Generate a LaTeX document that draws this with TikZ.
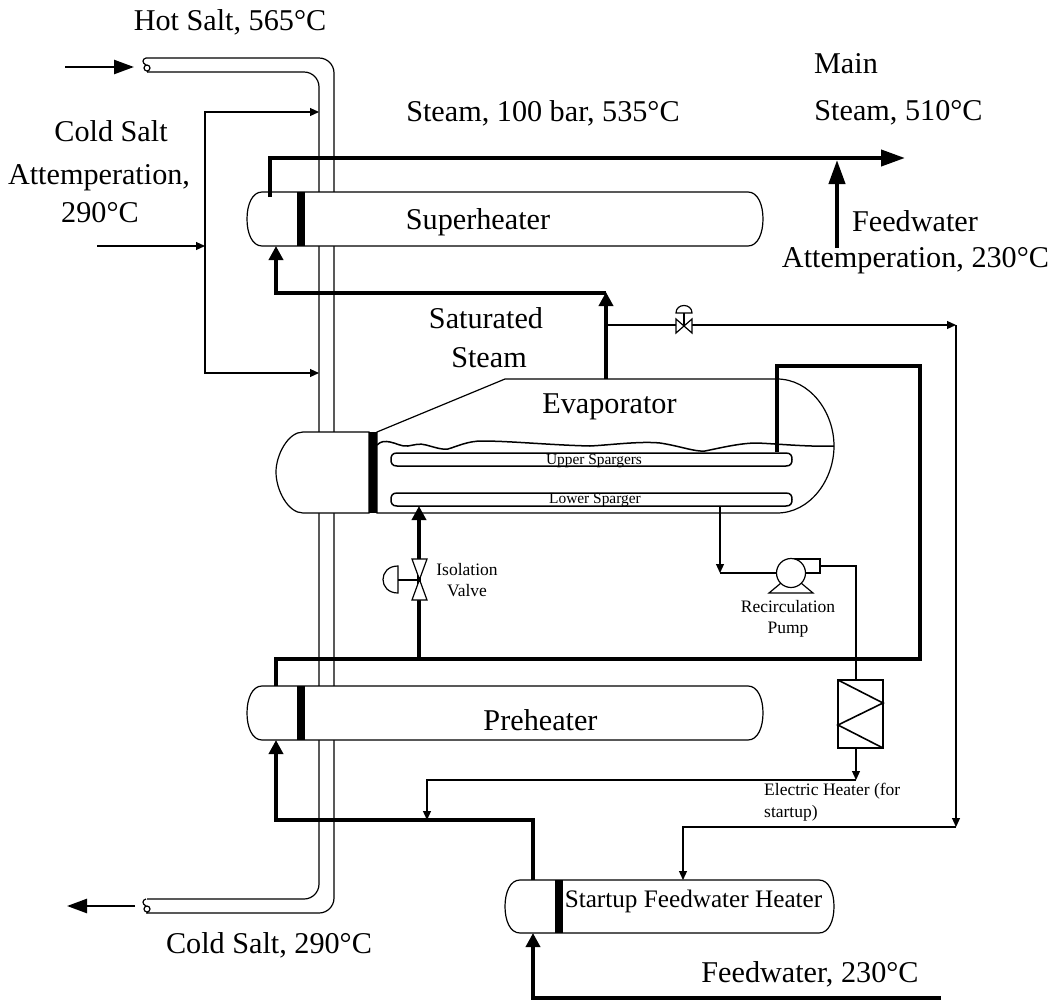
\documentclass[tikz,border=0pt]{standalone}
\usepackage{fontspec}
\setmainfont{Liberation Serif}
\usetikzlibrary{arrows.meta}
\tikzset{
    thinline/.style={line width=1.2pt},
    thickline/.style={line width=4pt},
    thinarrow/.style={thinline, -{Triangle[length=9pt,width=8pt]}},
    thickarrow/.style={thickline, -{Triangle[length=14pt,width=14pt]}},
    mainarrow/.style={thickline, -{Triangle[length=24pt,width=16pt]}},
    saltarrow/.style={line width=2.5pt, -{Triangle[length=20pt,width=14pt]}},
    vessel/.style={line width=1.2pt, fill=white},
    tubesheet/.style={fill=black, draw=none},
    biglabel/.style={inner sep=0pt, anchor=base, font=\fontsize{30.2}{36}\selectfont},
    smalllabel/.style={inner sep=0pt, font=\fontsize{17.5}{21.5}\selectfont, align=center},
    tinylabel/.style={inner sep=0pt, anchor=base, font=\fontsize{15.4}{18}\selectfont}
}
% heat exchanger drum: left, top, right, bottom
\newcommand{\drumshape}[4]{%
    \draw[vessel] ({#1+15},#2) -- ({#3-15},#2)
        .. controls ({#3-5},#2) and (#3,{(#2+#4)/2-14}) .. (#3,{(#2+#4)/2})
        .. controls (#3,{(#2+#4)/2+14}) and ({#3-5},#4) .. ({#3-15},#4)
        -- ({#1+15},#4)
        .. controls ({#1+5},#4) and (#1,{(#2+#4)/2+14}) .. (#1,{(#2+#4)/2})
        .. controls (#1,{(#2+#4)/2-14}) and ({#1+5},#2) .. cycle;}
% sparger pipe: left, top, right, bottom
\newcommand{\spargershape}[4]{%
    \draw[line width=1.5pt] ({#1+6},#2) -- ({#3-6},#2)
        .. controls ({#3-1},#2) and (#3,{#2+3}) .. (#3,{(#2+#4)/2})
        .. controls (#3,{#4-3}) and ({#3-1},#4) .. ({#3-6},#4)
        -- ({#1+6},#4)
        .. controls ({#1+1},#4) and (#1,{#4-3}) .. (#1,{(#2+#4)/2})
        .. controls (#1,{#2+3}) and ({#1+1},#2) .. cycle;}
\begin{document}
\begin{tikzpicture}[x=1pt, y=-1pt]
    \useasboundingbox (0,0) rectangle (1053,1002);

    % Salt pipe
    \draw[thinline, rounded corners=15pt] (146,58) -- (334,58) -- (334,913) -- (146,913);
    \draw[thinline, rounded corners=15pt] (147,72) -- (319,72) -- (319,899) -- (147,899);
    \draw[thinline] (146,58) .. controls (142,59) and (142,63) .. (146,65);
    \draw[thinline] (147,68) circle (3);
    \draw[thinline] (147,71) -- (148,72);
    \draw[thinline] (146,899) .. controls (142,900) and (142,904) .. (146,906);
    \draw[thinline] (147,909) circle (3);
    \draw[thinline] (147,912) -- (148,913);

    \coordinate (hotIn) at (65,67);
    \coordinate (hotEnd) at (134,67);
    \coordinate (coldEnd) at (135,906);
    \coordinate (coldOut) at (67,906);
    \draw[saltarrow] (hotIn) -- (hotEnd);
    \draw[saltarrow] (coldEnd) -- (coldOut);

    % Cold salt attemperation
    \coordinate (attIn) at (97,246);
    \coordinate (attBus) at (205,246);
    \coordinate (attTop) at (319,112);
    \coordinate (attLow) at (319,373);
    \draw[thinarrow] (attIn) -- (attBus);
    \draw[thinarrow] (attBus) |- (attTop);
    \draw[thinarrow] (attBus) |- (attLow);

    % Drums
    \drumshape{247}{192}{763}{246}
    \fill[tubesheet] (297,192) rectangle (305,246);
    \drumshape{247}{686}{763}{740}
    \fill[tubesheet] (297,686) rectangle (305,740);
    \drumshape{505}{880}{834}{933}
    \fill[tubesheet] (555,880) rectangle (563,933);

    % Evaporator
    \draw[vessel] (303,432) .. controls (288,432) and (276,455) .. (276,472)
        .. controls (276,490) and (288,513) .. (303,513) -- (369,513) -- (369,432) -- cycle;
    \draw[vessel] (377,432) -- (505,379) -- (777,379)
        .. controls (810,379) and (834,412) .. (834,446)
        .. controls (834,480) and (810,513) .. (777,513) -- (377,513) -- cycle;
    \fill[tubesheet] (369,432) rectangle (377,513);
    \draw[line width=1.5pt] (377,445) .. controls (381,441) and (385,441) .. (390,442)
        .. controls (396,443) and (402,447) .. (408,446)
        .. controls (414,445) and (420,443) .. (426,445)
        .. controls (434,447) and (442,450) .. (448,449)
        .. controls (458,446) and (468,441) .. (482,441)
        .. controls (510,441) and (550,445) .. (590,446)
        .. controls (610,445) and (640,441) .. (660,443)
        .. controls (680,446) and (695,452) .. (705,451)
        .. controls (720,448) and (740,443) .. (757,443)
        .. controls (780,444) and (810,447) .. (834,446);
    \spargershape{391}{453}{792}{466}
    \spargershape{391}{493}{792}{506}

    % Steam lines
    \coordinate (shOut) at (270,197);
    \coordinate (mainEnd) at (905,158);
    \coordinate (fwAttIn) at (837,248);
    \coordinate (fwAttEnd) at (837,160);
    \coordinate (evapTop) at (606,379);
    \coordinate (satEnd) at (606,292);
    \coordinate (satRun) at (606,293);
    \coordinate (shIn) at (276,246);
    \draw[mainarrow] (shOut) |- (mainEnd);
    \draw[mainarrow] (fwAttIn) -- (fwAttEnd);
    \draw[thickarrow] (evapTop) -- (satEnd);
    \draw[thickarrow] (satRun) -| (shIn);

    % Startup steam line and valve
    \coordinate (bleedStart) at (606,325);
    \coordinate (bleedEnd) at (956,325);
    \coordinate (bleedDown) at (956,827);
    \coordinate (sfwIn) at (683,880);
    \draw[thinarrow] (bleedStart) -- (bleedEnd);
    \draw[thinarrow] (bleedEnd) -- (bleedDown);
    \draw[thinarrow] (bleedDown) -| (sfwIn);
    \draw[thinline, fill=white] (676,319) -- (692,333) -- (692,319) -- (676,333) -- cycle;
    \draw[thinline] (684,326) -- (684,313);
    \draw[thinline] (676,313) .. controls (676,303) and (692,303) .. (692,313) -- cycle;

    % Feedwater lines
    \coordinate (fwStart) at (941,998);
    \coordinate (sfwBottom) at (533,933);
    \coordinate (sfwOut) at (533,880);
    \coordinate (phIn) at (276,740);
    \coordinate (phOut) at (276,686);
    \coordinate (evapRiser) at (920,659);
    \coordinate (spargerIn) at (777,452);
    \coordinate (riserTop) at (920,366);
    \coordinate (isoTee) at (419,659);
    \coordinate (isoEnd) at (419,506);
    \draw[thickarrow] (fwStart) -| (sfwBottom);
    \draw[thickarrow] (sfwOut) |- (276,820) -- (phIn);
    \draw[thickline] (phOut) |- (evapRiser) -- (riserTop) -| (spargerIn);
    \draw[thickarrow] (isoTee) -- (isoEnd);

    % Isolation valve
    \draw[thinline, fill=white] (412,559) -- (427,559) -- (412,600) -- (427,600) -- cycle;
    \draw[thinline] (419.5,580) -- (398,580);
    \draw[thinline] (398,566) .. controls (378,566) and (378,593) .. (398,593) -- cycle;

    % Recirculation loop
    \coordinate (lowOut) at (720,506);
    \coordinate (suctionEnd) at (720,573);
    \coordinate (pumpIn) at (777,573);
    \coordinate (pumpOut) at (820,566);
    \coordinate (heaterTop) at (856,680);
    \coordinate (heaterBottom) at (856,748);
    \coordinate (heaterEnd) at (856,780);
    \coordinate (returnEnd) at (427,820);
    \draw[thinarrow] (lowOut) -- (suctionEnd);
    \draw[thinline] (suctionEnd) -- (pumpIn);
    \draw[thinline] (791,559) -- (820,559) -- (820,573) -- (805,573);
    \draw[thinline, fill=white] (791,573) circle (14.5);
    \draw[thinline] (781,583) -- (769,593) -- (813,593) -- (801,583);
    \draw[thinline] (pumpOut) -| (heaterTop);
    \draw[thinarrow] (heaterBottom) -- (heaterEnd);
    \draw[thinarrow] (heaterEnd) -| (returnEnd);

    % Electric heater
    \draw[line width=1.6pt] (838,680) rectangle (883,748);
    \draw[line width=1.6pt] (838,680) -- (883,703) -- (838,725) -- (883,748);

    % Labels
    \node[biglabel] (hotsalt) at (230,30) {Hot Salt, 565°C};
    \node[biglabel] (main) at (846,73) {Main};
    \node[biglabel] (steammain) at (898.5,120) {Steam, 510°C};
    \node[biglabel] (steamsh) at (543,121) {Steam, 100 bar, 535°C};
    \node[biglabel] (coldatt1) at (111,141) {Cold Salt};
    \node[biglabel] (coldatt2) at (99,184) {Attemperation,};
    \node[biglabel] (coldatt3) at (100,222) {290°C};
    \node[biglabel] (superheater) at (478,229) {Superheater};
    \node[biglabel] (fwatt1) at (915,231) {Feedwater};
    \node[biglabel] (fwatt2) at (915.5,267) {Attemperation, 230°C};
    \node[biglabel] (saturated) at (486,328) {Saturated};
    \node[biglabel] (satsteam) at (489,367) {Steam};
    \node[biglabel] (evaporator) at (609.5,413) {Evaporator};
    \node[tinylabel] (upperlabel) at (594,464) {Upper Spargers};
    \node[tinylabel] (lowerlabel) at (595,503) {Lower Sparger};
    \node[smalllabel] (isolabel) at (467,580) {Isolation\\Valve};
    \node[smalllabel] (pumplabel) at (788,619) {Recirculation\\Pump};
    \node[biglabel] (preheater) at (540.5,730) {Preheater};
    \node[smalllabel, align=left, anchor=west] (heaterlabel) at (764,802) {Electric Heater (for\\startup)};
    \node[inner sep=0pt, anchor=base, font=\fontsize{25.2}{30}\selectfont] (sfwlabel) at (693.5,907) {Startup Feedwater Heater};
    \node[biglabel] (coldsalt) at (269,953) {Cold Salt, 290°C};
    \node[biglabel] (feedwater) at (810,982) {Feedwater, 230°C};
\end{tikzpicture}
\end{document}
